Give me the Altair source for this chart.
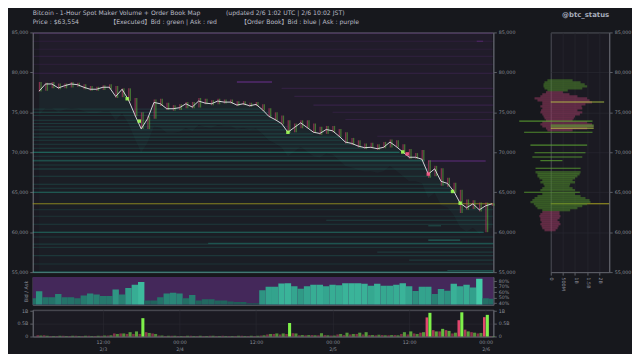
import altair as alt
import pandas as pd

# ---------------- data ----------------
# hour index = hours since 2/3 00:00 UTC (close time of each 1h candle)
hours = list(range(2, 74))
close = [77650, 78550, 78550, 78050, 78340, 78550, 78460, 78140, 77890, 77890,
         78140, 78140, 76980, 77890, 76570, 74700, 72930, 74210, 76240, 76070,
         75450, 75450, 75580, 76070, 75660, 76410, 76160, 76070, 76410, 76280,
         76280, 75910, 76070, 75820, 75990,
         75330, 74500, 74090, 73590, 72510, 73100, 73680, 73100, 72510, 72350,
         72850, 72690, 72020, 71280, 71110, 70780, 70580, 70620, 70450, 70620,
         71280, 70700, 70040, 69380, 69380, 69130,
         67270, 67930, 66360, 66110, 65120, 63630, 63050, 63550, 62800, 63300, 63554]
exec_lo = [77600, 77700, 78000, 77900, 78000, 78100, 78200, 77900, 77700, 77700,
           77800, 77900, 76800, 76900, 76400, 74500, 72900, 72900, 74200, 75800,
           75300, 75200, 75300, 75500, 75500, 75600, 76000, 75900, 76000, 76100,
           76100, 75800, 75900, 75700, 75800,
           75200, 74400, 74000, 73500, 72400, 72500, 73000, 73000, 72400, 72200,
           72300, 72500, 71900, 71100, 70900, 70600, 70400, 70500, 70300, 70500,
           70600, 70600, 69900, 69200, 69200, 69000,
           66800, 67000, 65800, 65700, 64900, 62400, 62800, 62900, 62600, 60000, 63300]
exec_hi = [78800, 78700, 78800, 78600, 78600, 78800, 78700, 78500, 78300, 78200,
           78400, 78500, 78300, 78000, 78000, 76800, 75000, 74500, 76600, 76700,
           76200, 75900, 76000, 76300, 76300, 76800, 76700, 76500, 76700, 76600,
           76600, 76400, 76400, 76200, 76300,
           76000, 75500, 75000, 74600, 74000, 73600, 74000, 74000, 73600, 73200,
           73300, 73300, 72900, 72500, 71800, 71500, 71100, 71200, 71000, 71300,
           71600, 71500, 71000, 70400, 69900, 70300,
           69000, 68300, 68000, 66800, 66200, 65300, 64100, 64000, 63700, 63700, 63600]

# big executions (highlighted blobs)
hl_t = [15.8, 17.7, 41.0, 59.0, 66.8, 68.0, 63.0, 59.7]
hl_price = [76700, 73900, 72500, 70040, 65100, 63630, 67270, 69800]
hl_side = ["bid", "bid", "bid", "bid", "bid", "bid", "ask", "ask"]

# order book: bid walls
bid_lvl = [75400, 75000, 74600, 74000, 73600, 73200, 72800, 72300, 71900, 71500,
           71000, 70500, 70000, 69500, 69000, 68900, 68400, 67900, 67000, 66000,
           65500, 65000, 62800, 62000, 61500, 61000, 60800, 60000, 59400, 59000,
           58600, 58500, 58100, 57500, 57060, 56500, 56020, 55200, 55000]
bid_from = [1, 1, 1, 1, 1, 1, 1, 1, 1, 1,
            1, 1, 1, 1, 1, 1, 1, 1, 1, 1,
            1, 1, 1, 1, 47, 1, 63, 1, 1, 63,
            28.5, 1, 1, 55, 1, 60, 1, 66, 1]
bid_to = [37, 38, 38.5, 39.5, 40, 41, 41, 45, 49.5, 50,
          51, 53.5, 58.5, 59.5, 62.5, 62.5, 63, 63, 63.5, 66.5,
          66.5, 66.5, 73.2, 73.2, 72, 73.2, 65, 71.7, 73.2, 68,
          73.2, 73.2, 73.2, 73.2, 73.2, 73.2, 73.2, 73.2, 73.2]
bid_str = [0.25, 0.45, 0.3, 0.35, 0.3, 0.3, 0.3, 0.3, 0.4, 0.3,
           0.3, 0.35, 1.0, 0.3, 0.45, 0.5, 0.3, 0.45, 0.35, 0.35,
           0.3, 0.85, 0.25, 0.25, 0.35, 0.3, 0.5, 0.85, 0.3, 0.75,
           0.5, 0.3, 0.25, 0.3, 0.3, 0.3, 0.25, 0.5, 0.8]

# order book: ask walls
ask_lvl = [84900, 83900, 82900, 82000, 81000, 79900, 78800, 78000, 77000, 75900,
           75000, 74100, 72000, 68900, 83900]
ask_from = [1, 1, 1, 1, 1, 1, 33, 40, 42, 45, 48, 50, 55, 63, 70.6]
ask_to = [73.2, 73.2, 73.2, 73.2, 73.2, 73.2, 38.5, 73.2, 73.2, 73.2,
          73.2, 73.2, 73.2, 72, 71.6]
ask_str = [0.3, 0.15, 0.12, 0.15, 0.12, 0.25, 0.9, 0.2, 0.2, 0.25,
           0.2, 0.2, 0.2, 0.75, 0.5]

# bid share of maker volume (%) per hour
ratio_hours = list(range(1, 74))
bid_ratio = [49, 62, 51, 51, 57, 51, 51, 49, 54, 58,
             56, 53, 53, 65, 56, 68, 74, 79, 45, 45,
             51, 58, 59, 58, 49, 55, 45, 47, 47, 45,
             45, 43, 42, 42, 40, 40, 64, 70, 70, 76,
             76.5, 71, 66.5, 71, 74, 74, 71, 74, 73, 76.5,
             76.5, 76.5, 75.5, 72, 75.5, 72, 72, 74, 76.5, 71,
             62.5, 70, 70, 57, 66, 63, 75.5, 71, 74, 69,
             85, 49, 48]

# executed maker volume per hour (billions USD)
vol_bid = [0.04, 0.03, 0.02, 0.03, 0.02, 0.03, 0.02, 0.03, 0.02, 0.03,
           0.04, 0.05, 0.10, 0.12, 0.17, 0.20, 0.72, 0.14, 0.10, 0.04,
           0.03, 0.03, 0.02, 0.03, 0.02, 0.03, 0.02, 0.03, 0.02, 0.02,
           0.02, 0.03, 0.02, 0.03, 0.03,
           0.05, 0.10, 0.12, 0.12, 0.53, 0.12, 0.06, 0.06, 0.05, 0.13,
           0.05, 0.04, 0.10, 0.15, 0.10, 0.15, 0.17, 0.06, 0.07, 0.05,
           0.06, 0.05, 0.17, 0.20, 0.10, 0.17,
           0.93, 0.20, 0.30, 0.22, 0.15, 0.95, 0.20, 0.15, 0.14, 0.85, 0.02]
vol_ask = [0.05, 0.05, 0.02, 0.02, 0.03, 0.02, 0.03, 0.02, 0.03, 0.02,
           0.03, 0.04, 0.12, 0.12, 0.10, 0.10, 0.10, 0.17, 0.12, 0.04,
           0.02, 0.03, 0.02, 0.02, 0.03, 0.02, 0.02, 0.03, 0.02, 0.03,
           0.02, 0.02, 0.03, 0.02, 0.02,
           0.04, 0.08, 0.10, 0.08, 0.10, 0.13, 0.05, 0.05, 0.06, 0.05,
           0.06, 0.04, 0.08, 0.06, 0.08, 0.10, 0.08, 0.06, 0.05, 0.06,
           0.05, 0.06, 0.10, 0.08, 0.12, 0.15,
           0.75, 0.25, 0.20, 0.25, 0.12, 0.64, 0.27, 0.17, 0.12, 0.76, 0.02]

# executed volume profile by price (right panel), extent in billions USD
prof_price = [79000, 78750, 78500, 78250, 78000, 77750,
              77500, 77250, 77000, 76750, 76500, 76250, 76000, 75750, 75500, 75250,
              75000, 74750, 74500, 74250, 74000, 73750, 73500, 73250, 73000, 72750,
              67500, 67250, 67000, 66750, 66500, 66250, 66000, 65750, 65500, 65250,
              64750, 64500, 64250, 64000, 63750, 63500, 63250, 63000, 62750,
              62500, 62250, 62000, 61750, 61500, 61250, 61000, 60750, 60500, 60250]
prof_lo = [-0.14, -0.26, -0.30, -0.30, -0.26, -0.14,
           -0.20, -0.35, -0.43, -0.67, -0.55, -0.35, -0.35, -0.43, -0.35, -0.40,
           -0.43, -0.35, -0.30, -0.26, -0.20, -0.35, -0.43, -0.35, -0.20, -0.14,
           -0.63, -0.55, -0.55, -0.47, -0.35, -0.43, -0.30, -0.26, -0.35, -0.43,
           -0.35, -0.55, -0.67, -0.76, -0.84, -0.70, -0.63, -0.55, -0.35,
           -0.35, -0.43, -0.47, -0.43, -0.43, -0.38, -0.43, -0.38, -0.35, -0.26]
prof_hi = [0.90, 1.23, 1.40, 1.50, 1.30, 0.70,
           0.50, 0.77, 1.10, 1.50, 1.60, 1.70, 1.43, 1.27, 1.30, 1.10,
           1.30, 1.20, 1.00, 0.95, 0.90, 1.50, 1.70, 1.77, 1.50, 0.90,
           1.23, 1.19, 1.10, 1.00, 0.90, 1.00, 0.80, 0.77, 0.90, 1.00,
           1.00, 1.23, 1.43, 1.60, 1.64, 1.50, 1.30, 1.10, 0.80,
           0.36, 0.36, 0.40, 0.36, 0.28, 0.36, 0.40, 0.32, 0.28, 0.20]
prof_side = ["bid"] * 6 + ["ask"] * 20 + ["bid"] * 19 + ["ask"] * 10

# single large executions at one price (thin lines in the profile)
spike_price = [76300, 73900, 73400, 73200, 73000, 72500, 70900, 69950, 69400, 68950, 68000, 65000]
spike_lo = [0.0, -1.30, 0.0, 0.0, 0.0, -1.10, -0.84, -0.67, -0.76, -0.43, -0.63, -1.10]
spike_hi = [2.20, 1.72, 1.77, 1.77, 1.77, 1.72, 1.50, 1.43, 1.30, 0.48, 1.23, 1.20]
spike_kind = ["hot", "bid", "bid", "bid", "hot", "bid", "bid", "bid", "bid", "bid", "bid", "bid"]

current_price = 63554
price_ticks = [55000, 60000, 65000, 70000, 75000, 80000, 85000]
time_ticks = [12, 24, 36, 48, 60, 72]
depth_ticks = [0, 0.5, 1, 1.5, 2]

title_1 = "Bitcoin - 1-Hour Spot Maker Volume + Order Book Map"
title_2 = "(updated 2/6 1:02 UTC  |  2/6 10:02 JST)"
legend_1 = "Price : $63,554"
legend_2 = "【Executed】Bid : green | Ask : red"
legend_3 = "【Order Book】Bid : blue | Ask : purple"
handle = "@btc_status"

# ---------------- styling ----------------
FONT = "DejaVu Sans"
TXT = "#b7bac4"
LAB = "#8b8e98"
AX = "#5e6068"
TEAL = "#27b49a"
PURP = "#9a3ccc"
W = 465
H_MAIN = 242

xs = alt.Scale(domain=[1, 73.2], nice=False, zero=False)
ys = alt.Scale(domain=[55000, 85000], nice=False, zero=False)

df = pd.DataFrame({"t": hours, "close": close, "lo": exec_lo, "hi": exec_hi})
df["near"] = df["close"] - 3000
df["tr"] = df["t"] + 0.05
df["tg"] = df["t"] + 0.3

bids = pd.DataFrame({"lvl": bid_lvl, "t0": bid_from, "t1": bid_to, "a": bid_str})
bids["a"] = bids["a"] * 0.6
asks = pd.DataFrame({"lvl": ask_lvl, "t0": ask_from, "t1": ask_to, "a": ask_str})
asks["a"] = asks["a"] * 0.7
hl = pd.DataFrame({"t": hl_t, "p": hl_price, "side": hl_side})

X = lambda f: alt.X(f, scale=xs, axis=None)
Yp = lambda f: alt.Y(f, scale=ys, axis=None)

area_ask = alt.Chart(df).mark_area(color="#5a2d7a", opacity=0.10).encode(
    x=X("t:Q"), y=Yp("close:Q"), y2=alt.datum(85000))
area_bid = alt.Chart(df).mark_area(color="#2a9484", opacity=0.04).encode(
    x=X("t:Q"), y=Yp("close:Q"), y2=alt.datum(55000))
area_near = alt.Chart(df).mark_area(color="#2a9484", opacity=0.07).encode(
    x=X("t:Q"), y=Yp("close:Q"), y2="near:Q")

ask_lines = alt.Chart(asks).mark_rule(color=PURP, strokeWidth=1.1).encode(
    x=X("t0:Q"), x2="t1:Q", y=Yp("lvl:Q"), opacity=alt.Opacity("a:Q", scale=None))
bid_lines = alt.Chart(bids).mark_rule(color=TEAL, strokeWidth=1.1).encode(
    x=X("t0:Q"), x2="t1:Q", y=Yp("lvl:Q"), opacity=alt.Opacity("a:Q", scale=None))

cur_df = pd.DataFrame({"p": [current_price]})
cur_rule = alt.Chart(cur_df).mark_rule(color="#a8a020", strokeWidth=1, opacity=0.8).encode(
    y=Yp("p:Q"))

ex_red = alt.Chart(df).mark_rule(color="#d0406a", strokeWidth=1.3, opacity=0.55).encode(
    x=X("tr:Q"), y=Yp("lo:Q"), y2="hi:Q")
ex_green = alt.Chart(df).mark_rule(color="#5fb83a", strokeWidth=1.3, opacity=0.55).encode(
    x=X("tg:Q"), y=Yp("lo:Q"), y2="hi:Q")

price_line = alt.Chart(df).mark_line(color="#d4d4d8", strokeWidth=1).encode(
    x=X("t:Q"), y=Yp("close:Q"))

hl_pts = alt.Chart(hl).mark_square(size=12, opacity=0.9).encode(
    x=X("t:Q"), y=Yp("p:Q"),
    color=alt.Color("side:N", scale=alt.Scale(domain=["bid", "ask"], range=["#9dff55", "#ff5a8a"]), legend=None))

txt_df = pd.DataFrame({"s": [title_1, title_2, legend_1, legend_2, legend_3],
                       "xp": [0, 195, 0, 78, 210], "yp": [-17.5, -17.5, -9, -9, -9]})
texts = alt.Chart(txt_df).mark_text(align="left", baseline="alphabetic", fontSize=6.2,
                                     font=FONT + ", Noto Sans CJK JP", color=TXT).encode(
    x=alt.X("xp:Q", scale=None, axis=None), y=alt.Y("yp:Q", scale=None, axis=None), text="s:N")

left_axis = alt.Chart(df).mark_point(opacity=0).encode(
    x=X("t:Q"),
    y=alt.Y("close:Q", scale=ys, title=None,
            axis=alt.Axis(orient="left", values=price_ticks, format=",d", grid=False)))
right_axis = alt.Chart(df).mark_point(opacity=0).encode(
    x=X("t:Q"),
    y=alt.Y("close:Q", scale=ys, title=None,
            axis=alt.Axis(orient="right", values=price_ticks, format=",d", grid=False)))

main_inner = alt.layer(area_ask, area_bid, area_near, ask_lines, bid_lines, cur_rule,
                       ex_red, ex_green, price_line, hl_pts)
main = alt.layer(main_inner, left_axis, right_axis, texts).resolve_scale(y="independent").properties(
    width=W, height=H_MAIN)

# ---- bid/ask share panel ----
rdf = pd.DataFrame({"t": ratio_hours, "r": bid_ratio})
rdf["x0"] = rdf["t"] - 0.5
rdf["x1"] = rdf["t"] + 0.5
rs = alt.Scale(domain=[37, 88], nice=False, zero=False)
one = pd.DataFrame({"v": [0]})
ra_bg = alt.Chart(one).mark_rect(color="#44285a").encode(
    x=alt.value(0), x2=alt.value(W), y=alt.value(0), y2=alt.value(28))
ra_bars = alt.Chart(rdf).mark_bar(clip=True).encode(
    x=X("x0:Q"), x2="x1:Q",
    y=alt.Y("r:Q", scale=rs, title="Bid / Ask",
            axis=alt.Axis(orient="left", values=[], labels=False, ticks=False, grid=False)),
    y2=alt.datum(37),
    color=alt.Color("r:Q", scale=alt.Scale(domain=[42, 85], range=["#1f5e57", "#44caa8"]), legend=None))
ra_right = alt.Chart(rdf).mark_point(opacity=0).encode(
    y=alt.Y("r:Q", scale=rs, title=None,
            axis=alt.Axis(orient="right", values=[40, 50, 60, 70, 80],
                          labelExpr="datum.value + '%'", grid=False)))
ratio = alt.layer(alt.layer(ra_bg, ra_bars), ra_right).resolve_scale(y="independent").properties(
    width=W, height=28)

# ---- volume panel ----
vdf = pd.DataFrame({"t": hours, "bid": vol_bid, "ask": vol_ask})
vdf["r0"] = vdf["t"] - 0.42
vdf["r1"] = vdf["t"] - 0.02
vdf["g0"] = vdf["t"] + 0.02
vdf["g1"] = vdf["t"] + 0.5
vs = alt.Scale(domain=[0, 1.05], nice=False)
op = alt.Scale(domain=[0, 0.5], range=[0.4, 1], clamp=True)
time_axis = alt.Axis(values=time_ticks, grid=True, ticks=False, labelLineHeight=7, labelPadding=3,
                     labelExpr="datum.value==12?['12:00','2/3']:datum.value==24?['00:00','2/4']:"
                               "datum.value==36?'12:00':datum.value==48?['00:00','2/5']:"
                               "datum.value==60?'12:00':['00:00','2/6']")
vol_axis = alt.Axis(orient="left", values=[0, 0.5, 1], grid=True,
                    labelExpr="datum.value==0?'0':datum.value==0.5?'0.5B':'1B'")
v_red = alt.Chart(vdf).mark_rect(color="#e0466e").encode(
    x=alt.X("r0:Q", scale=xs, axis=time_axis, title=None), x2="r1:Q",
    y=alt.Y("ask:Q", scale=vs, axis=vol_axis, title=None), y2=alt.datum(0),
    opacity=alt.Opacity("ask:Q", scale=op, legend=None))
v_green = alt.Chart(vdf).mark_rect(color="#7ef04a").encode(
    x=alt.X("g0:Q", scale=xs, axis=time_axis, title=None), x2="g1:Q",
    y=alt.Y("bid:Q", scale=vs, axis=vol_axis, title=None), y2=alt.datum(0),
    opacity=alt.Opacity("bid:Q", scale=op, legend=None))
v_right = alt.Chart(vdf).mark_point(opacity=0).encode(
    y=alt.Y("bid:Q", scale=vs, title=None,
            axis=alt.Axis(orient="right", values=[0, 0.5, 1], grid=False,
                          labelExpr="datum.value==0?'0':datum.value==0.5?'0.5B':'1B'")))
volume = alt.layer(alt.layer(v_red, v_green), v_right).resolve_scale(y="independent").properties(
    width=W, height=27)

left_col = alt.vconcat(main, ratio, volume, spacing=0)

# ---- right panel: executed volume by price ----
pdf = pd.DataFrame({"p": prof_price, "lo": prof_lo, "hi": prof_hi, "side": prof_side})
sdf = pd.DataFrame({"p": spike_price, "lo": spike_lo, "hi": spike_hi, "kind": spike_kind})
px = alt.Scale(domain=[0, 2.41], nice=False, zero=False)
p_axis_x = alt.Axis(values=depth_ticks, labelAngle=90, grid=True, ticks=True,
                    labelOverlap=False, labelFlush=False, labelBound=False,
                    labelExpr="datum.value==0?'0':datum.value==0.5?'500M':datum.value+'B'")
p_axis_y = alt.Axis(orient="right", values=price_ticks, format=",d", grid=True)
prof_cur = alt.Chart(cur_df).mark_rule(color="#a8a020", strokeWidth=1).encode(
    y=alt.Y("p:Q", scale=ys, axis=p_axis_y, title=None), x=alt.value(0), x2=alt.value(59))
prof_blocks = alt.Chart(pdf).mark_rule(strokeWidth=2.3, opacity=0.5).encode(
    x=alt.X("lo:Q", scale=px, axis=p_axis_x, title=None), x2="hi:Q",
    y=alt.Y("p:Q", scale=ys, axis=p_axis_y, title=None),
    color=alt.Color("side:N", scale=alt.Scale(domain=["bid", "ask"], range=["#4f8e2c", "#a03c66"]), legend=None))
prof_spikes = alt.Chart(sdf).mark_rule(strokeWidth=1.1, opacity=0.75).encode(
    x=alt.X("lo:Q", scale=px, axis=p_axis_x, title=None), x2="hi:Q",
    y=alt.Y("p:Q", scale=ys, axis=p_axis_y, title=None),
    color=alt.Color("kind:N", scale=alt.Scale(domain=["bid", "hot"], range=["#62ad33", "#c8e04a"]), legend=None))
h_df = pd.DataFrame({"s": [handle]})
handle_txt = alt.Chart(h_df).mark_text(align="right", fontSize=7, fontWeight="bold", font=FONT,
                                        color="#a9aebd").encode(
    x=alt.value(59), y=alt.value(-17.5), text="s:N")
profile = alt.layer(prof_cur, prof_blocks, prof_spikes, handle_txt).resolve_scale(
    color="independent").properties(width=59, height=H_MAIN)

chart = alt.hconcat(left_col, profile, spacing=2).properties(
    padding={"left": 2, "top": 0, "right": 0, "bottom": 0}
).configure(background="#17181d", font=FONT).configure_view(
    stroke=AX, fill="#1b1a22").configure_axis(
    labelColor=LAB, labelFont=FONT, labelFontSize=4.8, domainColor=AX, tickColor=AX,
    tickSize=3, labelPadding=2, gridColor="#2a2b33", gridWidth=0.6,
    titleColor=LAB, titleFont=FONT, titleFontSize=5, titleFontWeight="normal", titlePadding=4
)

chart.save("out.html", embed_options={"renderer": "svg", "actions": False})
